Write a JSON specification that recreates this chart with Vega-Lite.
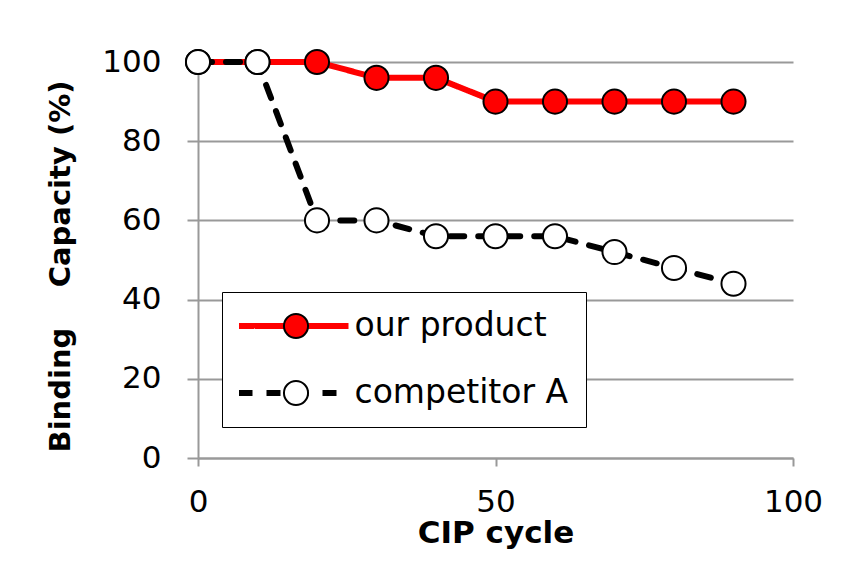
{
  "$schema": "https://vega.github.io/schema/vega-lite/v6.json",
  "width": 595,
  "height": 396,
  "autosize": "none",
  "padding": {"left": 198, "top": 62, "right": 73, "bottom": 106},
  "config": {"view": {"stroke": null}, "font": "DejaVu Sans"},
  "data": {
    "values": [
      {"cycle": 0, "capacity": 100, "series": "our product"},
      {"cycle": 10, "capacity": 100, "series": "our product"},
      {"cycle": 20, "capacity": 100, "series": "our product"},
      {"cycle": 30, "capacity": 96, "series": "our product"},
      {"cycle": 40, "capacity": 96, "series": "our product"},
      {"cycle": 50, "capacity": 90, "series": "our product"},
      {"cycle": 60, "capacity": 90, "series": "our product"},
      {"cycle": 70, "capacity": 90, "series": "our product"},
      {"cycle": 80, "capacity": 90, "series": "our product"},
      {"cycle": 90, "capacity": 90, "series": "our product"},
      {"cycle": 0, "capacity": 100, "series": "competitor A"},
      {"cycle": 10, "capacity": 100, "series": "competitor A"},
      {"cycle": 20, "capacity": 60, "series": "competitor A"},
      {"cycle": 30, "capacity": 60, "series": "competitor A"},
      {"cycle": 40, "capacity": 56, "series": "competitor A"},
      {"cycle": 50, "capacity": 56, "series": "competitor A"},
      {"cycle": 60, "capacity": 56, "series": "competitor A"},
      {"cycle": 70, "capacity": 52, "series": "competitor A"},
      {"cycle": 80, "capacity": 48, "series": "competitor A"},
      {"cycle": 90, "capacity": 44, "series": "competitor A"}
    ]
  },
  "encoding": {
    "x": {
      "field": "cycle",
      "type": "quantitative",
      "scale": {"domain": [0, 100], "nice": false, "zero": false},
      "axis": {
        "values": [0, 50, 100],
        "grid": false,
        "labelFlush": false,
        "domainColor": "#999999",
        "domainWidth": 2,
        "tickColor": "#999999",
        "tickWidth": 2,
        "tickSize": 8,
        "labelFontSize": 31,
        "labelColor": "black",
        "labelPadding": 21,
        "title": "CIP cycle",
        "titleFontSize": 31,
        "titleFontWeight": "bold",
        "titleColor": "black",
        "titlePadding": 1
      }
    },
    "y": {
      "field": "capacity",
      "type": "quantitative",
      "scale": {"domain": [0, 100], "nice": false},
      "axis": {
        "values": [0, 20, 40, 60, 80, 100],
        "grid": true,
        "labelFlush": false,
        "gridColor": "#999999",
        "gridWidth": 2,
        "domainColor": "#999999",
        "domainWidth": 2,
        "tickColor": "#999999",
        "tickWidth": 2,
        "tickSize": 11,
        "labelFontSize": 31,
        "labelColor": "black",
        "labelPadding": 26,
        "title": "Binding\u00a0\u00a0\u00a0\u00a0Capacity (%)",
        "titleFontSize": 29,
        "titleFontWeight": "bold",
        "titleColor": "black",
        "titlePadding": 26,
        "titleY": 204
      }
    }
  },
  "layer": [
    {
      "mark": {"type": "line", "strokeWidth": 6, "strokeCap": "round", "strokeJoin": "round"},
      "encoding": {
        "stroke": {
          "field": "series",
          "type": "nominal",
          "scale": {"domain": ["our product", "competitor A"], "range": ["#ff0000", "#000000"]},
          "legend": {
            "orient": "none",
            "legendX": 24,
            "legendY": 230,
            "title": null,
            "symbolType": "stroke",
            "symbolSize": 12100,
            "symbolStrokeWidth": 6,
            "symbolOffset": -3.5,
            "clipHeight": 34,
            "labelFontSize": 33,
            "labelLimit": 400,
            "labelColor": "black",
            "labelOffset": 3,
            "padding": 17,
            "rowPadding": 33,
            "strokeColor": "black",
            "fillColor": "white"
          }
        },
        "strokeDash": {
          "field": "series",
          "type": "nominal",
          "scale": {"domain": ["our product", "competitor A"], "range": [[1, 0], [14, 14]]},
          "legend": {
            "orient": "none",
            "legendX": 24,
            "legendY": 230,
            "title": null,
            "symbolType": "stroke",
            "symbolSize": 12100,
            "symbolStrokeWidth": 6,
            "symbolOffset": -3.5,
            "clipHeight": 34,
            "labelFontSize": 33,
            "labelLimit": 400,
            "labelColor": "black",
            "labelOffset": 3,
            "padding": 17,
            "rowPadding": 33,
            "strokeColor": "black",
            "fillColor": "white"
          }
        }
      }
    },
    {
      "mark": {"type": "point", "shape": "circle", "filled": true, "size": 580, "stroke": "black", "strokeWidth": 2, "opacity": 1},
      "encoding": {
        "fill": {
          "field": "series",
          "type": "nominal",
          "sort": "descending",
          "scale": {"range": ["#ff0000", "#ffffff"]},
          "legend": {
            "orient": "none",
            "legendX": 64.5,
            "legendY": 230,
            "title": null,
            "symbolType": "circle",
            "symbolSize": 580,
            "symbolStrokeColor": "black",
            "symbolStrokeWidth": 2,
            "symbolOpacity": 1,
            "clipHeight": 34,
            "labelExpr": "''",
            "labelFontSize": 33,
            "padding": 17,
            "rowPadding": 33
          }
        }
      }
    }
  ]
}
